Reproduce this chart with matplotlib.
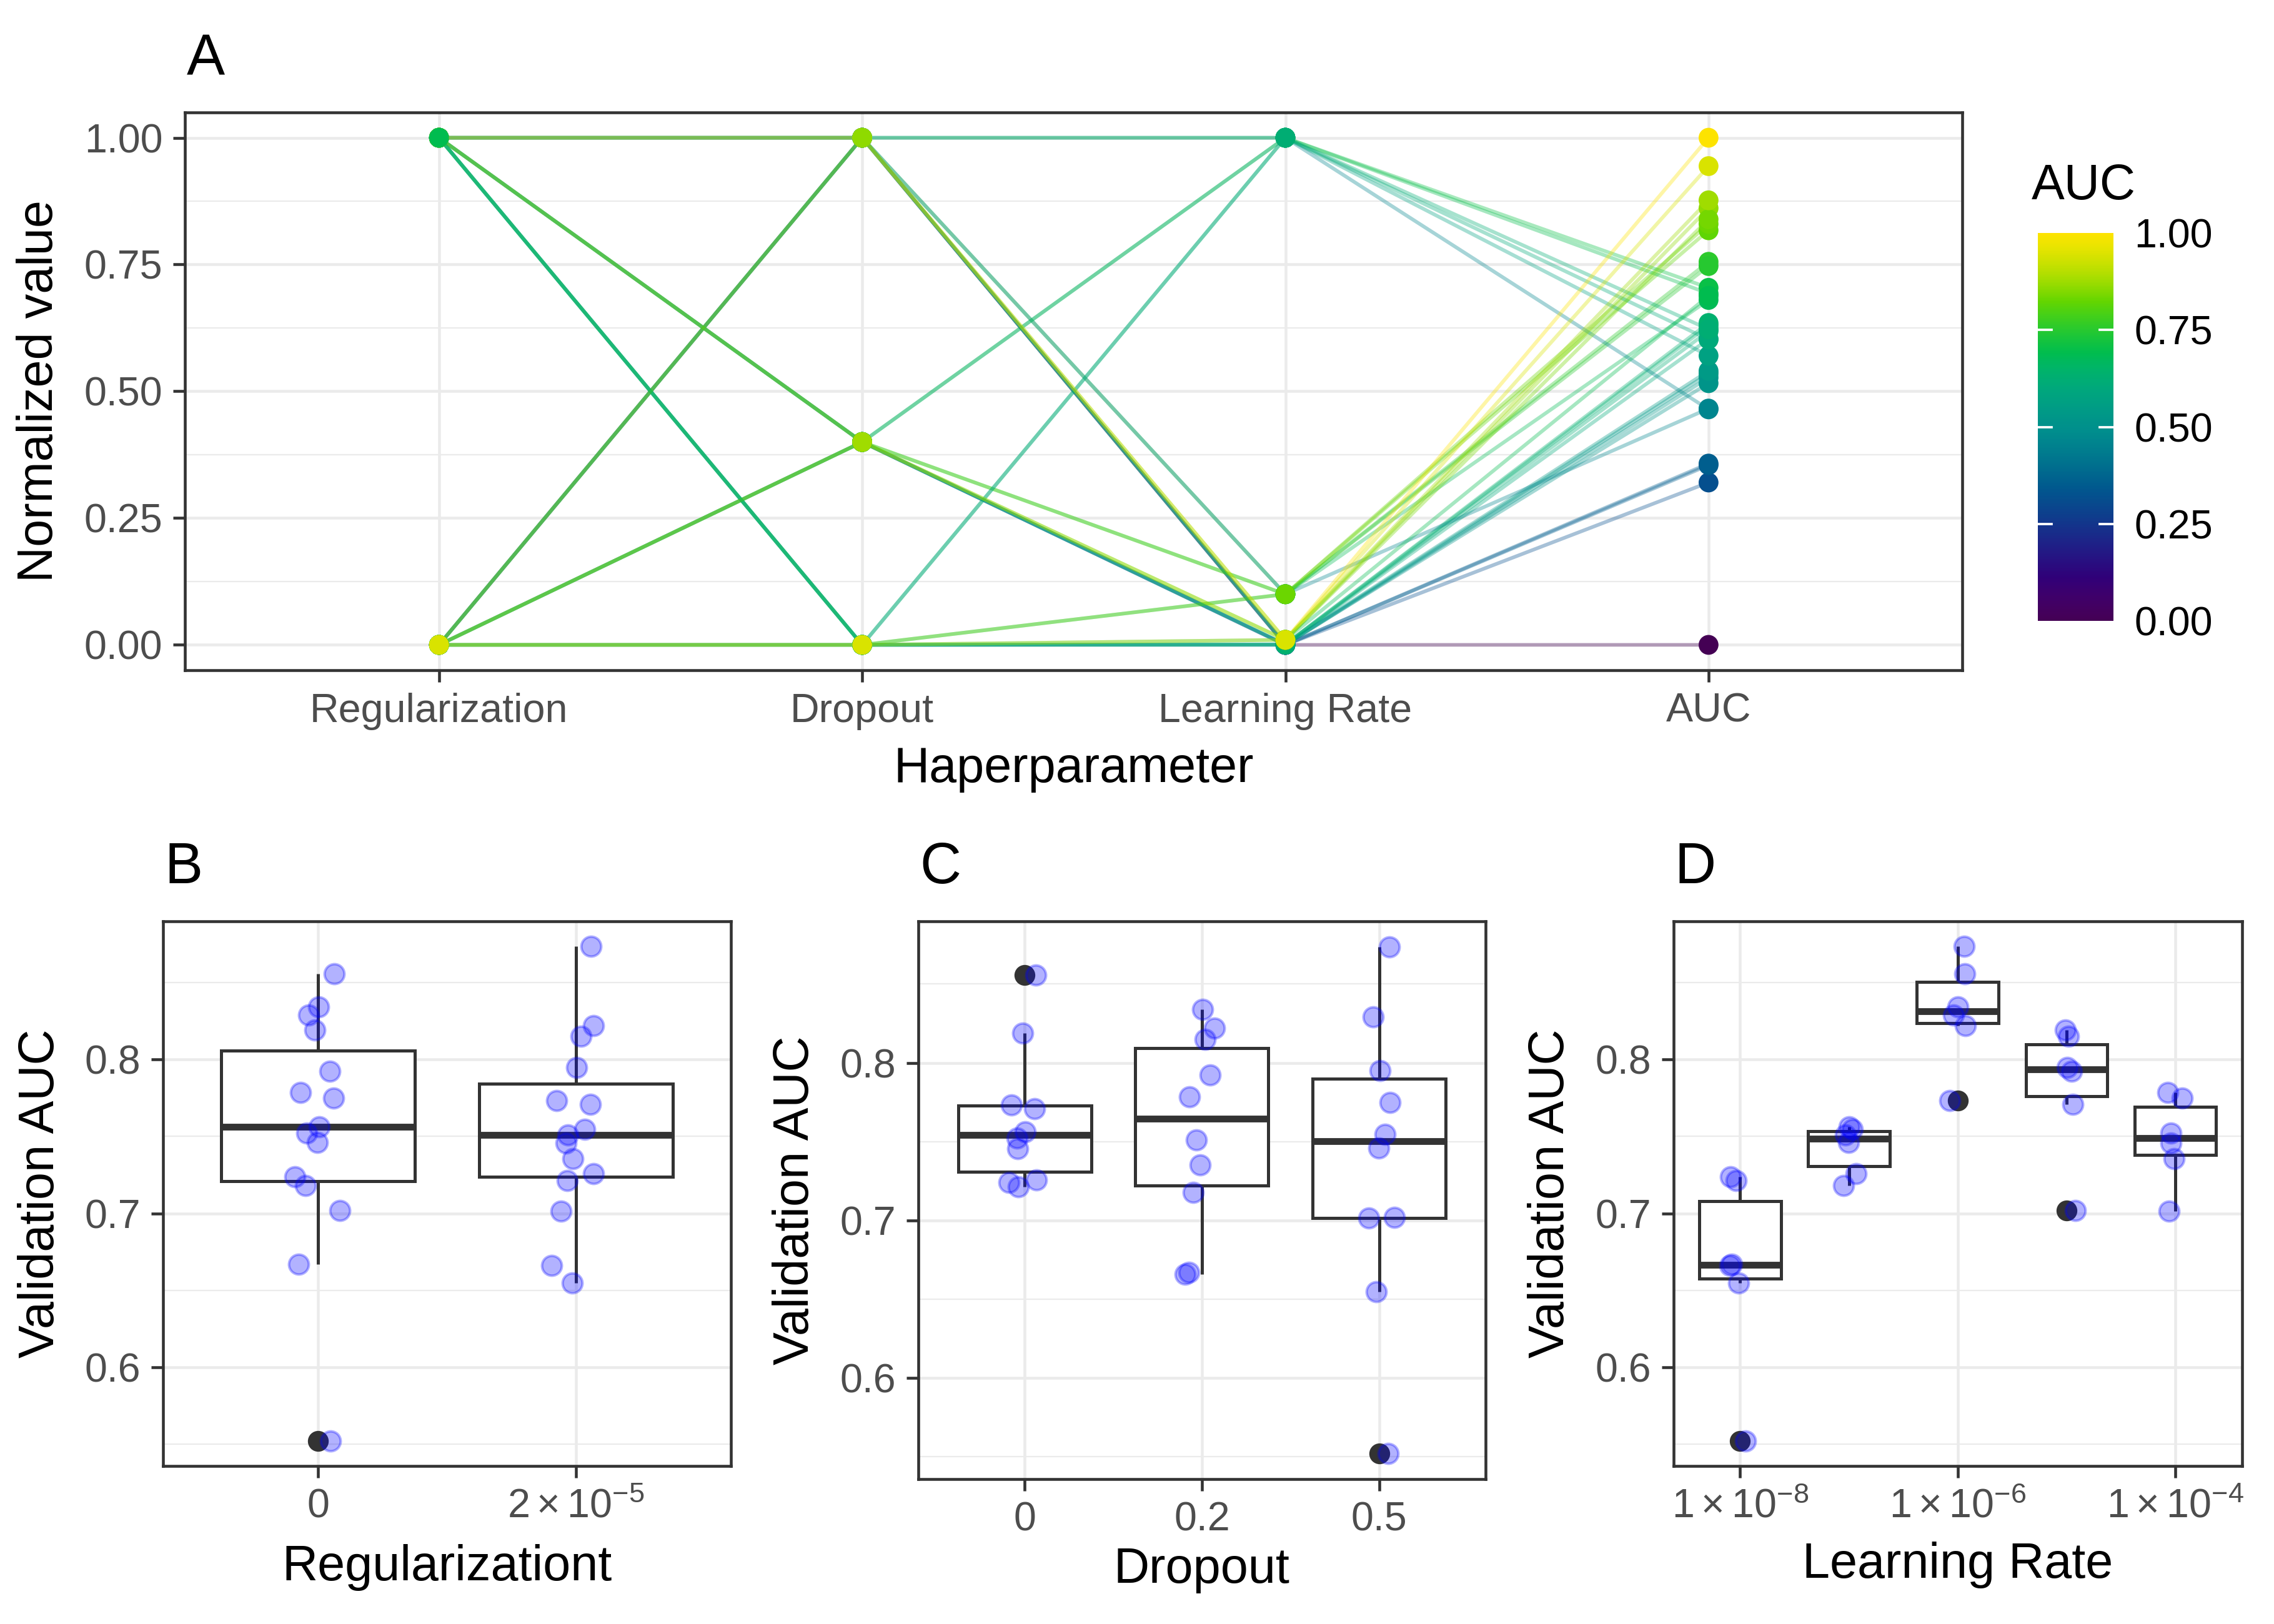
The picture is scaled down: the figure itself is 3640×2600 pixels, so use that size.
import matplotlib
matplotlib.use("Agg")
import matplotlib.pyplot as plt
import numpy as np
from matplotlib.cm import ScalarMappable
from matplotlib.colors import Normalize, ListedColormap, rgb_to_hsv, hsv_to_rgb

plt.rcParams['font.family'] = ['Liberation Sans', 'DejaVu Sans']
plt.rcParams['mathtext.fontset'] = 'custom'
plt.rcParams['mathtext.rm'] = 'Liberation Sans'
plt.rcParams['mathtext.it'] = 'Liberation Sans:italic'
plt.rcParams['mathtext.bf'] = 'Liberation Sans:bold'

# one entry per training run, in run order
regularization = [2e-5, 0, 2e-5, 0, 2e-5, 0,
                  2e-5, 0, 2e-5, 0, 2e-5, 0,
                  2e-5, 0, 2e-5, 0, 2e-5, 0,
                  2e-5, 0, 2e-5, 0, 2e-5, 0,
                  2e-5, 0, 2e-5, 0, 2e-5, 0]
dropout = [0.5, 0.5, 0.2, 0.2, 0.0, 0.0,
           0.5, 0.5, 0.2, 0.2, 0.0, 0.0,
           0.5, 0.5, 0.2, 0.2, 0.0, 0.0,
           0.5, 0.5, 0.2, 0.2, 0.0, 0.0,
           0.5, 0.5, 0.2, 0.2, 0.0, 0.0]
learning_rate = [1e-8, 1e-8, 1e-8, 1e-8, 1e-8, 1e-8,
                 1e-7, 1e-7, 1e-7, 1e-7, 1e-7, 1e-7,
                 1e-5, 1e-5, 1e-5, 1e-5, 1e-5, 1e-5,
                 1e-4, 1e-4, 1e-4, 1e-4, 1e-4, 1e-4,
                 1e-6, 1e-6, 1e-6, 1e-6, 1e-6, 1e-6]
auc = [0.655, 0.552, 0.666, 0.667, 0.7215, 0.724,
       0.7545, 0.746, 0.751, 0.718, 0.7258, 0.7562,
       0.795, 0.7019, 0.815, 0.7923, 0.7708, 0.819,
       0.7014, 0.7749, 0.7354, 0.7785, 0.7457, 0.7522,
       0.8737, 0.829, 0.822, 0.834, 0.7734, 0.8557]
# horizontal jitter of the points (same for panels B-D)
jitter = [-0.015, 0.049, -0.094, -0.075, -0.034, -0.090,
          0.034, -0.003, -0.031, -0.049, 0.068, 0.004,
          0.004, 0.084, 0.019, 0.047, 0.057, -0.011,
          -0.058, 0.061, -0.011, -0.069, -0.039, -0.043,
          0.058, -0.036, 0.069, 0.003, -0.075, 0.064]

par_labels = ['Regularization', 'Dropout', 'Learning Rate', 'AUC']
reg_levels = [0, 2e-5]
reg_labels = ['0', r'$2\times10^{-5}$']
dropout_levels = [0.0, 0.2, 0.5]
dropout_labels = ['0', '0.2', '0.5']
lr_levels = [1e-8, 1e-7, 1e-6, 1e-5, 1e-4]
lr_ticks = [1e-8, 1e-6, 1e-4]
lr_labels = [r'$1\times10^{-8}$', r'$1\times10^{-6}$', r'$1\times10^{-4}$']

GRID = '#EBEBEB'
DARK = '#333333'
TICK_TXT = '#4D4D4D'
TICK_SIZE = 15.5
TITLE_SIZE = 19

# viridis, a bit more saturated like the reference rendering
vir = plt.get_cmap('viridis')(np.linspace(0, 1, 256))[:, :3]
hsv = rgb_to_hsv(vir)
hsv[:, 1] = np.clip(hsv[:, 1] * 1.5, 0, 1)
cmap = ListedColormap(hsv_to_rgb(hsv))

fig = plt.figure(figsize=(3640 / 300, 2600 / 300), dpi=300)


def style_axes(ax):
    for s in ax.spines.values():
        s.set_color(DARK)
        s.set_linewidth(1.1)
    ax.tick_params(which='major', direction='out', length=4.6, width=1.1, color=DARK,
                   labelcolor=TICK_TXT, labelsize=TICK_SIZE, pad=4)
    ax.tick_params(which='minor', length=0)
    ax.set_axisbelow(True)
    ax.grid(which='major', color=GRID, lw=1.1)
    ax.grid(which='minor', axis='y', color=GRID, lw=0.55)


# ---------- A: parallel coordinates ----------
axA = fig.add_axes([0.0814, 0.5873, 0.7816, 0.3435])
cols = np.array([regularization, dropout, learning_rate, auc], dtype=float)
lo = cols.min(axis=1, keepdims=True)
hi = cols.max(axis=1, keepdims=True)
norm = (cols - lo) / (hi - lo)
auc_n = norm[3]
xpos = np.arange(1, 5)

for i in range(norm.shape[1]):
    axA.plot(xpos, norm[:, i], color=cmap(auc_n[i]), alpha=0.35, lw=1.4,
             solid_capstyle='butt', zorder=2)
for j in range(4):
    axA.scatter(np.full(norm.shape[1], xpos[j]), norm[j], c=auc_n, cmap=cmap,
                vmin=0, vmax=1, s=58, lw=0, zorder=3)

axA.set_xlim(0.4, 4.6)
axA.set_ylim(-0.05, 1.05)
axA.set_xticks(xpos)
axA.set_xticklabels(par_labels)
axA.set_yticks([0, 0.25, 0.5, 0.75, 1.0])
axA.set_yticklabels(['0.00', '0.25', '0.50', '0.75', '1.00'])
axA.set_yticks([0.125, 0.375, 0.625, 0.875], minor=True)
style_axes(axA)
axA.set_xlabel('Haperparameter', fontsize=TITLE_SIZE, labelpad=6)
axA.set_ylabel('Normalized value', fontsize=TITLE_SIZE, labelpad=8)

# colour bar
cax = fig.add_axes([0.8962, 0.6177, 0.0332, 0.2388])
cb = fig.colorbar(ScalarMappable(norm=Normalize(0, 1), cmap=cmap), cax=cax)
cb.outline.set_visible(False)
cb.set_ticks([0, 0.25, 0.5, 0.75, 1.0])
cb.set_ticklabels(['0.00', '0.25', '0.50', '0.75', '1.00'])
cax.tick_params(length=0, labelsize=TICK_SIZE, labelcolor='black', pad=8)
for t in [0.25, 0.5, 0.75]:
    cax.axhline(t, xmin=0, xmax=0.18, color='white', lw=0.9)
    cax.axhline(t, xmin=0.82, xmax=1, color='white', lw=0.9)
fig.text(0.8935, 0.885, 'AUC', fontsize=TITLE_SIZE, ha='left', va='center')


# ---------- B-D: box plots ----------
def box_panel(rect, groups, positions, xvals, width):
    ax = fig.add_axes(rect)
    ax.boxplot(groups, positions=positions, widths=width, patch_artist=True,
               showcaps=False, whis=1.5, manage_ticks=False, zorder=2,
               boxprops=dict(facecolor='white', edgecolor=DARK, lw=1.2),
               whiskerprops=dict(color=DARK, lw=1.2, solid_capstyle='butt'),
               medianprops=dict(color=DARK, lw=2.6, solid_capstyle='butt'),
               flierprops=dict(marker='o', markerfacecolor=DARK, markeredgecolor=DARK,
                               markersize=7))
    ax.scatter(xvals, auc, s=58, facecolor='blue', edgecolor='blue', lw=1.0,
               alpha=0.3, zorder=4)
    ax.set_ylim(0.5359, 0.8898)
    ax.set_yticks([0.6, 0.7, 0.8])
    ax.set_yticklabels(['0.6', '0.7', '0.8'])
    ax.set_yticks([0.55, 0.65, 0.75, 0.85], minor=True)
    style_axes(ax)
    ax.set_ylabel('Validation AUC', fontsize=TITLE_SIZE, labelpad=8)
    return ax


auc_arr = np.array(auc)
jit = np.array(jitter)

# B: regularization
reg_idx = np.array([reg_levels.index(r) for r in regularization])
axB = box_panel([0.0718, 0.0973, 0.2495, 0.3354],
                [auc_arr[reg_idx == k] for k in range(len(reg_levels))],
                np.arange(1, len(reg_levels) + 1), reg_idx + 1 + jit, 0.75)
axB.set_xlim(0.4, 2.6)
axB.set_xticks([1, 2])
axB.set_xticklabels(reg_labels, va='top')
axB.set_xlabel('Regularizationt', fontsize=TITLE_SIZE, labelpad=7)

# C: dropout
drop_idx = np.array([dropout_levels.index(d) for d in dropout])
axC = box_panel([0.4038, 0.0892, 0.2495, 0.3435],
                [auc_arr[drop_idx == k] for k in range(len(dropout_levels))],
                np.arange(1, len(dropout_levels) + 1), drop_idx + 1 + jit, 0.75)
axC.set_xlim(0.4, 3.6)
axC.set_xticks([1, 2, 3])
axC.set_xticklabels(dropout_labels)
axC.set_xlabel('Dropout', fontsize=TITLE_SIZE, labelpad=3)

# D: learning rate (log10 axis)
lr_log = np.log10(learning_rate)
lvl_log = np.log10(lr_levels)
axD = box_panel([0.7359, 0.0973, 0.25, 0.3354],
                [auc_arr[np.isclose(lr_log, v)] for v in lvl_log],
                lvl_log, lr_log + jit, 0.75)
axD.set_xlim(-8.6125, -3.3875)
axD.set_xticks(np.log10(lr_ticks))
axD.set_xticklabels(lr_labels)
axD.set_xlabel('Learning Rate', fontsize=TITLE_SIZE, labelpad=6)

# panel tags
fig.text(0.0822, 0.9535, 'A', fontsize=22, ha='left', va='baseline')
fig.text(0.0725, 0.4562, 'B', fontsize=22, ha='left', va='baseline')
fig.text(0.4044, 0.4562, 'C', fontsize=22, ha='left', va='baseline')
fig.text(0.7365, 0.4562, 'D', fontsize=22, ha='left', va='baseline')

fig.savefig('out.png', dpi=300, facecolor='white')
